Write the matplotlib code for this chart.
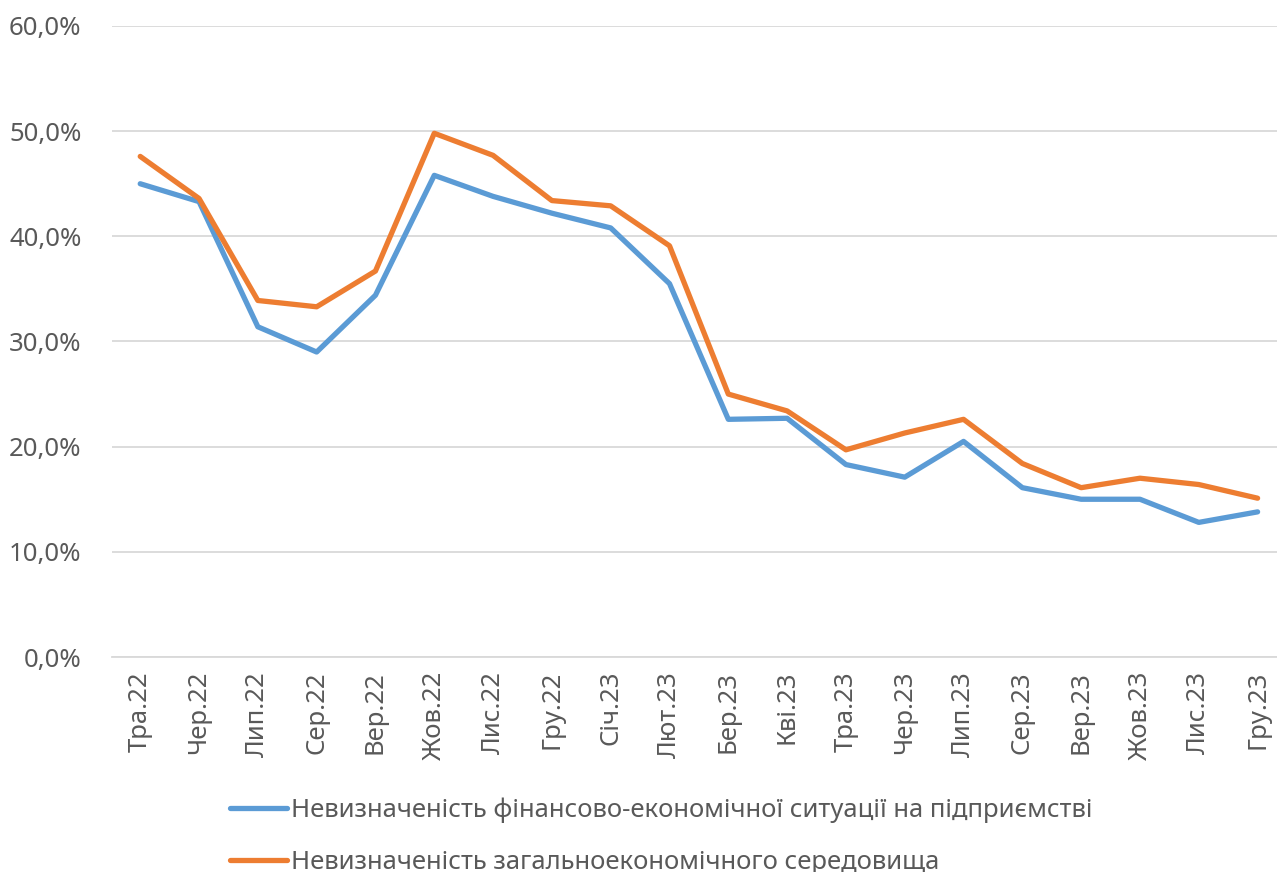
import matplotlib
matplotlib.use("Agg")
import matplotlib.pyplot as plt
from matplotlib.ticker import FuncFormatter

plt.rcParams['font.family'] = ['Noto Sans', 'DejaVu Sans']

months = ["Тра.22", "Чер.22", "Лип.22", "Сер.22", "Вер.22", "Жов.22", "Лис.22", "Гру.22",
          "Січ.23", "Лют.23", "Бер.23", "Кві.23", "Тра.23", "Чер.23", "Лип.23", "Сер.23",
          "Вер.23", "Жов.23", "Лис.23", "Гру.23"]

firm_uncert = [45.0, 43.3, 31.4, 29.0, 34.4, 45.8, 43.8, 42.2, 40.8, 35.5,
               22.6, 22.7, 18.3, 17.1, 20.5, 16.1, 15.0, 15.0, 12.8, 13.8]
econ_uncert = [47.6, 43.6, 33.9, 33.3, 36.7, 49.8, 47.7, 43.4, 42.9, 39.1,
               25.0, 23.4, 19.7, 21.3, 22.6, 18.4, 16.1, 17.0, 16.4, 15.1]

label_firm = "Невизначеність фінансово-економічної ситуації на підприємстві"
label_econ = "Невизначеність загальноекономічного середовища"

txt = "#595959"

fig = plt.figure(figsize=(12.77, 8.72), dpi=100)
ax = fig.add_axes([112/1277, 1 - 657/872, 1 - 112/1277, (657 - 26)/872])

x = list(range(len(months)))
l1, = ax.plot(x, firm_uncert, color="#5B9BD5", lw=3.8, solid_capstyle="round", solid_joinstyle="round")
l2, = ax.plot(x, econ_uncert, color="#ED7D31", lw=3.8, solid_capstyle="round", solid_joinstyle="round")

ax.set_ylim(0, 60)
ax.set_xlim(-0.48, 19.33)
ax.set_yticks(range(0, 61, 10))
ax.yaxis.set_major_formatter(FuncFormatter(lambda v, p: f"{v:.1f}%".replace(".", ",")))
ax.set_xticks(x)
ax.set_xticklabels(months, rotation=90)

ax.grid(axis="y", color="#D9D9D9", lw=1.3)
ax.set_axisbelow(True)
for s in ["top", "right", "left"]:
    ax.spines[s].set_visible(False)
ax.spines["bottom"].set_color("#D9D9D9")
ax.spines["bottom"].set_linewidth(1.3)
ax.tick_params(axis="both", length=0, labelsize=18.5, colors=txt)
ax.tick_params(axis="y", pad=22)
ax.tick_params(axis="x", pad=10)

fig.legend([l1, l2], [label_firm, label_econ], loc="upper left",
           bbox_to_anchor=(207/1277, 1 - 774/872), frameon=False, fontsize=18.5,
           labelcolor=txt, handlelength=2.2, handletextpad=0.15, labelspacing=1.06)

fig.savefig("out.png", dpi=100)
